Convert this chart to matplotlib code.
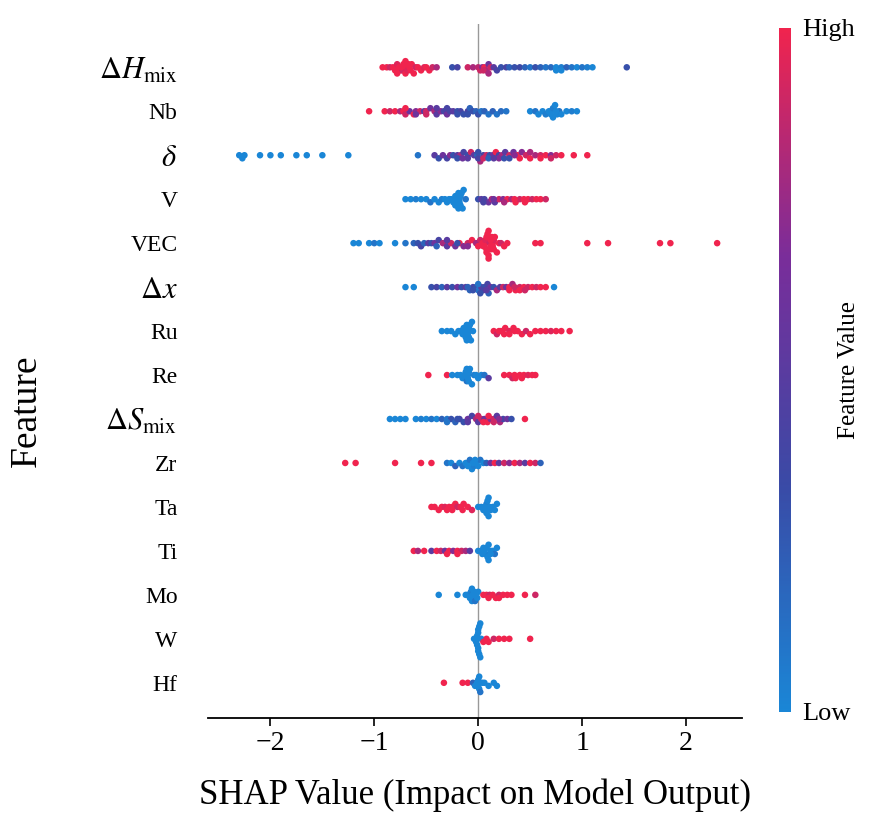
import numpy as np
import matplotlib
matplotlib.use("Agg")
import matplotlib.pyplot as plt
from matplotlib.colors import LinearSegmentedColormap

plt.rcParams['font.family'] = ['Liberation Serif', 'DejaVu Serif']
plt.rcParams['mathtext.fontset'] = 'stix'

features = [r'$\Delta H_{\mathrm{mix}}$', 'Nb', r'$\delta$', 'V', 'VEC', r'$\Delta x$', 'Ru', 'Re',
            r'$\Delta S_{\mathrm{mix}}$', 'Zr', 'Ta', 'Ti', 'Mo', 'W', 'Hf']

# shap values and feature values (0 = low, 1 = high) per feature
dh_s = [-0.92, -0.88, -0.85, -0.82, -0.8, -0.78, -0.76, -0.75, -0.73, -0.72, -0.7, -0.69, -0.68, -0.66, -0.64, -0.62,
        -0.6, -0.58, -0.55, -0.52, -0.5, -0.47, -0.44, -0.4, -0.25, -0.2, -0.1, -0.05, 0.0, 0.02, 0.04, 0.06, 0.08,
        0.1, 0.12, 0.15, 0.18, 0.22, 0.27, 0.3, 0.35, 0.4, 0.45, 0.5, 0.55, 0.6, 0.65, 0.7, 0.75, 0.8, 0.85, 0.9,
        0.95, 1.0, 1.05, 1.1, 1.43, -0.78, -0.74, -0.7, -0.67, -0.65, 0.05, 0.1, 0.75, 0.8]
dh_v = [1, 1, .9, 1, 1, .95, 1, 1, .9, 1, 1, 1, .95, 1, 1, 1, .9, 1, 1, .95, 1, 1, .9, .8, .3, .4, .9, .8, .85, .9,
        .7, 1, .8, .6, .9, .5, .4, .3, .4, .2, .3, .35, .2, .1, .3, .2, .1, .15, 0, .05, .2, .1, 0, .1, .05, 0, .3,
        1, 1, 1, 1, 1, .9, .8, 0, 0]
nb_s = [-1.05, -0.9, -0.85, -0.8, -0.75, -0.72, -0.7, -0.66, -0.62, -0.6, -0.56, -0.52, -0.5, -0.46, -0.42,
        -0.4, -0.36, -0.33, -0.3, -0.27, -0.24, -0.2, -0.17, -0.14, -0.1, -0.08, -0.05, -0.02, 0.0, 0.03, 0.06,
        0.1, 0.14, 0.18, 0.22, 0.27, 0.5, 0.55, 0.58, 0.62, 0.65, 0.68, 0.7, 0.72, 0.74, 0.76, 0.78, 0.8, 0.85,
        0.9, 0.95, -0.7, -0.6, -0.5, -0.4, -0.3, -0.2, -0.1, 0.72, 0.75, 0.7]
nb_v = [1, 1, .9, 1, .8, 1, .9, .6, 1, .7, .9, .5, .9, .6, .8, .5, .7, .4, .6, .4, .5, .3, .4, .3, .4, .2, .3,
        .2, .3, .1, .2, .1, .2, .1, .15, .1, 0, .1, 0, 0, .05, 0, 0, .05, 0, 0, .1, 0, 0, .05, 0, 1, .6, .9, .5,
        .4, .3, .3, 0, 0, 0]
de_s = [-2.3, -2.27, -2.25, -2.1, -2.0, -1.9, -1.75, -1.65, -1.5, -1.25, -0.58, -0.42, -0.38, -0.34, -0.3,
        -0.27, -0.24, -0.2, -0.17, -0.14, -0.1, -0.07, -0.04, -0.01, 0.02, 0.05, 0.08, 0.11, 0.14, 0.17, 0.2,
        0.23, 0.26, 0.3, 0.34, 0.38, 0.42, 0.46, 0.5, 0.55, 0.6, 0.65, 0.7, 0.75, 0.8, 0.92, 1.05, -0.2, -0.1,
        0.0, 0.05, 0.1, 0.2, 0.3, 0.4, 0.5, 0.6, 0.7, -0.15, 0.0, 0.15, 0.25, 0.35]
de_v = [0, 0, 0, 0, 0, 0, 0, 0, 0, 0, .1, .5, .3, .6, .4, .7, .3, .5, .8, .4, .3, .9, .5, .2, .8, .4, .9, .3,
        .6, 1, .4, .8, .5, .9, .6, 1, .7, .9, 1, .8, .9, 1, .7, .9, 1, 1, 1, .3, .5, .4, .9, .2, .7, .3, 1, .8,
        1, .9, .6, .3, .5, .3, .7]
v_s = [-0.7, -0.65, -0.6, -0.55, -0.5, -0.46, -0.42, -0.38, -0.35, -0.32, -0.3, -0.28, -0.26, -0.24, -0.22,
       -0.21, -0.2, -0.19, -0.18, -0.17, -0.16, -0.15, -0.14, -0.12, -0.22, -0.2, -0.18, -0.2, -0.19, -0.17,
       0.0, 0.03, 0.06, 0.1, 0.13, 0.16, 0.2, 0.24, 0.28, 0.32, 0.36, 0.4, 0.44, 0.48, 0.52, 0.56, 0.6, 0.65,
       0.05, 0.15, 0.25, 0.35, 0.45]
v_v = [0, 0, .05, 0, 0, .1, 0, 0, .05, 0, 0, 0, 0, 0, 0, 0, 0, 0, 0, 0, 0, 0, 0, .1, 0, 0, 0, 0, 0, 0,
       .3, .5, .4, .6, .8, .5, .9, .7, 1, .8, 1, .9, 1, 1, .9, 1, 1, .9, .4, .6, .8, 1, 1]
vec_s = [-1.2, -1.15, -1.05, -1.0, -0.95, -0.8, -0.7, -0.62, -0.58, -0.55, -0.52, -0.48, -0.45, -0.42, -0.38,
         -0.34, -0.3, -0.26, -0.22, -0.18, -0.14, -0.1, -0.06, -0.02, 0.0, 0.02, 0.04, 0.06, 0.07, 0.08, 0.09,
         0.1, 0.11, 0.12, 0.13, 0.14, 0.15, 0.16, 0.18, 0.2, 0.22, 0.25, 0.28, 0.05, 0.08, 0.1, 0.12, 0.14, 0.1,
         0.12, 0.08, 0.06, 0.15, 0.55, 0.6, 1.05, 1.25, 1.75, 1.85, 2.3, -0.4, -0.3, -0.2, -0.1]
vec_v = [0, 0, 0, .1, 0, 0, .1, .2, .3, .4, .2, .5, .3, .6, .4, .8, .5, .9, .6, 1, .7, .9, 1, .8, 1, .9, 1, 1,
         .95, 1, 1, 1, .9, 1, 1, 1, .95, 1, 1, 1, .9, 1, 1, 1, 1, 1, 1, 1, 1, 1, 1, 1, 1, 1, 1, 1, 1, 1, 1, 1,
         .2, .5, .3, .7]
dx_s = [-0.7, -0.62, -0.45, -0.4, -0.35, -0.3, -0.25, -0.2, -0.16, -0.12, -0.08, -0.05, -0.02, 0.0, 0.03, 0.06,
        0.09, 0.12, 0.15, 0.18, 0.21, 0.24, 0.27, 0.3, 0.33, 0.36, 0.4, 0.44, 0.48, 0.52, 0.56, 0.6, 0.65, 0.73,
        -0.1, -0.05, 0.0, 0.05, 0.1, 0.02, 0.08, 0.3, 0.35, 0.4, 0.45]
dx_v = [0, 0, .3, .4, .2, .5, .3, .6, .3, .5, .2, .4, .3, .1, .5, .3, .4, .6, .3, .8, .5, .9, .6, 1, .8, 1, .9,
        1, .9, 1, .9, 1, 1, 0, .2, .3, .1, .4, .2, .3, .5, 1, .9, 1, .9]
ru_s = [-0.35, -0.3, -0.26, -0.22, -0.19, -0.17, -0.15, -0.14, -0.13, -0.12, -0.11, -0.1, -0.09, -0.08,
        -0.07, -0.06, -0.05, -0.12, -0.1, -0.11, -0.09, -0.13, 0.15, 0.18, 0.22, 0.26, 0.3, 0.34, 0.38, 0.42,
        0.46, 0.5, 0.55, 0.6, 0.65, 0.7, 0.75, 0.8, 0.88, 0.2, 0.25, 0.3, 0.35]
ru_v = [0] * 22 + [1, .9, 1, 1, .95, 1, 1, 1, .9, 1, 1, 1, 1, .95, 1, 1, 1, 1, 1, 1, 1]
re_s = [-0.48, -0.3, -0.25, -0.2, -0.17, -0.15, -0.13, -0.12, -0.11, -0.1, -0.09, -0.08, -0.06, -0.04, -0.02,
        0.0, 0.03, 0.06, 0.1, -0.12, -0.1, -0.11, -0.09, 0.25, 0.3, 0.33, 0.36, 0.4, 0.44, 0.48, 0.52, 0.55,
        0.35, 0.42]
re_v = [1, 1, 0, 0, 0, 0, 0, 0, .1, 0, 0, 0, 0, .05, 0, 0, 0, .1, .5, 0, 0, 0, 0, 1, 1, .9, 1, 1, 1, .95, 1,
        1, 1, 1]
ds_s = [-0.85, -0.8, -0.75, -0.7, -0.6, -0.55, -0.5, -0.45, -0.4, -0.35, -0.3, -0.26, -0.22, -0.18, -0.14,
        -0.1, -0.06, -0.02, 0.0, 0.03, 0.06, 0.09, 0.12, 0.15, 0.18, 0.21, 0.24, 0.28, 0.32, 0.45, -0.3, -0.2,
        -0.1, 0.0, 0.1, 0.2, 0.05, 0.15]
ds_v = [0, 0, 0, 0, 0, .05, 0, .1, 0, .2, .1, .3, .2, .4, .3, .6, .4, .8, .5, .9, .6, 1, .7, .9, .5, .8, .4,
        .6, .3, 1, .1, .3, .5, .9, 1, .7, 1, .9]
zr_s = [-1.28, -1.18, -0.8, -0.55, -0.45, -0.3, -0.26, -0.22, -0.18, -0.15, -0.12, -0.1, -0.08, -0.06, -0.04,
        -0.02, 0.0, 0.02, 0.05, 0.08, -0.1, -0.05, -0.03, 0.12, 0.16, 0.2, 0.25, 0.3, 0.35, 0.4, 0.45, 0.5,
        0.55, 0.6]
zr_v = [1, 1, 1, 1, 1, .1, 0, .2, 0, .1, 0, 0, .1, 0, .05, 0, 0, .1, 0, .2, 0, 0, 0, .6, 1, .5, .9, .7, 1, .8,
        .5, 1, .9, .2]
ta_s = [-0.45, -0.42, -0.38, -0.35, -0.32, -0.28, -0.25, -0.22, -0.2, -0.17, -0.14, -0.1, -0.06, -0.3, -0.25,
        -0.15, 0.0, 0.03, 0.05, 0.07, 0.08, 0.09, 0.1, 0.11, 0.12, 0.14, 0.16, 0.18, 0.06, 0.08, 0.1]
ta_v = [1, 1, 1, 1, .95, 1, 1, 1, .9, 1, 1, 1, .95, 1, 1, 1, 0, 0, 0, 0, .05, 0, 0, 0, 0, 0, 0, 0, 0, 0, 0]
ti_s = [-0.62, -0.58, -0.52, -0.45, -0.4, -0.36, -0.32, -0.28, -0.24, -0.2, -0.16, -0.12, -0.08, -0.3, -0.2,
        0.0, 0.03, 0.05, 0.07, 0.09, 0.1, 0.12, 0.14, 0.16, 0.18, 0.06, 0.08, 0.1, 0.12, 0.04]
ti_v = [1, .8, 1, .5, 1, .9, .6, 1, .7, 1, .9, .8, .5, 1, 1, 0, 0, 0, .05, 0, 0, 0, 0, .1, 0, 0, 0, 0, 0, 0]
mo_s = [-0.38, -0.2, -0.12, -0.1, -0.08, -0.07, -0.06, -0.05, -0.04, -0.03, -0.02, -0.01, 0.0, -0.06, -0.04,
        0.05, 0.08, 0.11, 0.14, 0.17, 0.2, 0.24, 0.28, 0.32, 0.45, 0.55, 0.1, 0.2]
mo_v = [0, 0, 0, 0, 0, .05, 0, 0, 0, .1, 0, 0, 0, 0, 0, 1, 1, .9, 1, 1, .9, 1, 1, 1, 1, .9, 1, 1]
w_s = [-0.04, -0.02, -0.01, 0.0, 0.01, 0.02, 0.03, -0.01, 0.0, 0.01, 0.0, 0.02, -0.02, 0.0, 0.05, 0.1,
       0.15, 0.2, 0.25, 0.3, 0.5, 0.08]
w_v = [0] * 14 + [1, 1, .9, 1, 1, 1, 1, 1]
hf_s = [-0.33, -0.15, -0.1, -0.05, -0.03, -0.01, 0.0, 0.01, 0.02, 0.04, 0.06, 0.1, 0.15, 0.18, 0.0, 0.01]
hf_v = [1, 1, 1, .2, 0, 0, 0, 0, .1, 0, 0, 0, 0, 0, 0, 0]

shap_vals = [dh_s, nb_s, de_s, v_s, vec_s, dx_s, ru_s, re_s, ds_s, zr_s, ta_s, ti_s, mo_s, w_s, hf_s]
feat_vals = [dh_v, nb_v, de_v, v_v, vec_v, dx_v, ru_v, re_v, ds_v, zr_v, ta_v, ti_v, mo_v, w_v, hf_v]

cmap = LinearSegmentedColormap.from_list('shap', ['#1a86d6', '#3a4aa6', '#7a2d9a', '#f0244e'])


def swarm(x, width=0.04, dy=0.07):
    x = np.asarray(x)
    bins = np.round(x / width).astype(int)
    off = np.zeros(len(x))
    counts = {}
    for i in np.argsort(x, kind='stable'):
        k = counts.get(bins[i], 0)
        counts[bins[i]] = k + 1
        off[i] = ((k + 1) // 2) * dy * (1 if k % 2 else -1)
    return off


fig = plt.figure(figsize=(8.93, 8.21), dpi=100)
ax = fig.add_axes([0.233, 0.1255, 0.598, 0.845])
ax.axvline(0, color='#999999', lw=1, zorder=0)
for i, (s, v) in enumerate(zip(shap_vals, feat_vals)):
    y = i + swarm(s)
    ax.scatter(s, y, c=v, cmap=cmap, vmin=0, vmax=1, s=22, lw=0, zorder=2)

ax.set_xlim(-2.6, 2.54)
ax.set_ylim(14.8, -0.98)
ax.set_yticks(range(len(features)))
ax.set_yticklabels(features, fontsize=17)
for lab in ax.get_yticklabels():
    if '$' in lab.get_text():
        lab.set_fontsize(22)
ax.tick_params(axis='y', length=0, pad=22)
ax.set_xticks([-2, -1, 0, 1, 2])
ax.set_xticklabels(['\u22122', '\u22121', '0', '1', '2'], fontsize=20)
ax.tick_params(axis='x', length=6, width=1.2)
for sp in ['top', 'right', 'left']:
    ax.spines[sp].set_visible(False)
ax.spines['bottom'].set_linewidth(1.3)
ax.set_xlabel('SHAP Value (Impact on Model Output)', fontsize=25, labelpad=16)
fig.text(0.03, 0.5, 'Feature', rotation=90, fontsize=27, va='center', ha='center')

cax = fig.add_axes([0.872, 0.133, 0.014, 0.833])
cb = fig.colorbar(plt.cm.ScalarMappable(cmap=cmap), cax=cax)
cb.set_ticks([0, 1])
cb.set_ticklabels(['Low', 'High'], fontsize=19)
cb.ax.tick_params(length=0, pad=8)
cb.outline.set_visible(False)
cb.set_label('Feature Value', fontsize=18, labelpad=-12)

fig.savefig('out.png', dpi=100)
